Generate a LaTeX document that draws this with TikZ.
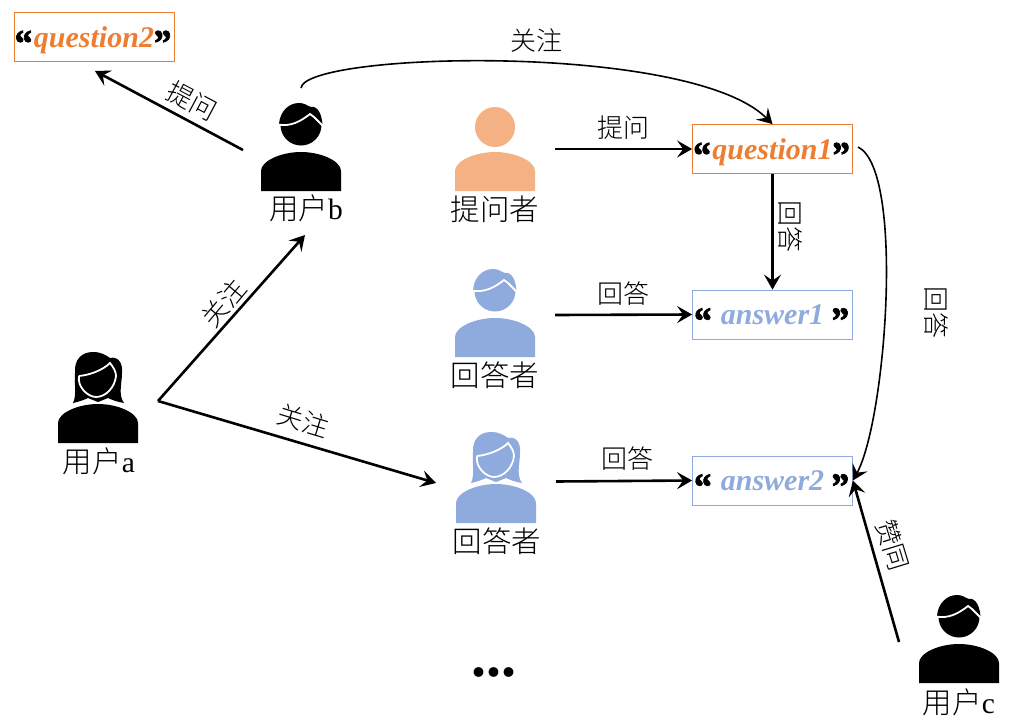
\documentclass[tikz,border=0pt]{standalone}
\usepackage{fontspec}
\setmainfont{Liberation Serif}
\newfontfamily\cjk{Noto Sans CJK SC Light}
\newfontfamily\quotefont[FakeSlant=-0.12,FakeBold=2]{Liberation Serif Bold}
\usetikzlibrary{arrows.meta}
\definecolor{qorange}{HTML}{ED7D31}
\definecolor{askorange}{HTML}{F4B183}
\definecolor{ansblue}{HTML}{8FAADC}
\newcommand{\qmark}[1]{\textcolor{black}{\quotefont\fontsize{38}{38}\selectfont\smash{\raisebox{-9pt}{#1}}}}
\tikzset{
    pics/body/.style={code={
        \fill [#1] (-40, 0) -- (-40, -20) .. controls (-40, -30) and (-20, -39) .. (0, -39)
            .. controls (20, -39) and (40, -30) .. (40, -20) -- (40, 0) -- cycle;
    }},
    pics/plain/.style={code={
        \pic {body=#1};
        \fill [#1] (0, -64) circle (20);
    }},
    pics/man/.style={code={
        \pic {body=#1};
        \fill [#1] (0, -66) circle (20.5);
        \fill [#1] (-22, -67) .. controls (-21, -80) and (-12, -88) .. (-2, -88)
            .. controls (3, -88) and (6, -86) .. (8, -84)
            .. controls (14, -86) and (21, -81) .. (21.5, -65) -- cycle;
        \draw [white, line width=1.8] (-23, -66.5) .. controls (-10, -64) and (0, -70) .. (9, -77) -- (13, -74) .. controls (16, -71) and (19, -68) .. (22, -65);
    }},
    pics/woman/.style={code={
        \pic {body=#1};
        \fill [#1] (-25, -40) .. controls (-21, -48) and (-24, -60) .. (-23, -70)
            .. controls (-24, -84) and (-16, -91) .. (-5, -91)
            .. controls (3, -91) and (8, -88) .. (12, -85)
            .. controls (20, -87) and (25, -80) .. (24, -70)
            .. controls (24, -60) and (20, -48) .. (26, -40)
            .. controls (20, -41) and (14, -43) .. (10, -45)
            -- (0, -41) -- (-10, -45) .. controls (-14, -43) and (-20, -41) .. (-25, -40) -- cycle;
        \draw [white, line width=1.8] (-19, -67) .. controls (-8, -68) and (5, -73) .. (12, -80)
            .. controls (15, -76) and (18, -72) .. (18, -67)
            .. controls (17, -56) and (8, -46) .. (-2, -46)
            .. controls (-10, -46) and (-21, -56) .. (-19, -67);
    }},
    lbl/.style={font=\cjk\fontsize{26}{26}\selectfont, inner sep=0pt},
    who/.style={font=\cjk\fontsize{29.5}{29.5}\selectfont, inner sep=0pt},
    tbox/.style={minimum width=160, minimum height=49, inner sep=0pt, line width=0.8,
        text height=22, text depth=2,
        font=\bfseries\itshape\fontsize{30}{30}\selectfont},
    link/.style={line width=2.6, -{Stealth[length=15,width=17,inset=6]}},
    curvelink/.style={line width=1.6, -{Stealth[length=15,width=17,inset=6]}},
}
\begin{document}
\begin{tikzpicture}[x=1pt, y=-1pt]
    \useasboundingbox (0, 0) rectangle (1013, 723);
    % people
    \pic at (98, 443) {woman=black};
    \pic at (301, 191) {man=black};
    \pic at (495, 191) {plain=askorange};
    \pic at (495, 357) {man=ansblue};
    \pic at (496, 523) {woman=ansblue};
    \pic at (959, 683) {man=black};
    % names
    \node [who] (usera) at (99, 461) {用户{\rmfamily a}};
    \node [who] (userb) at (306, 208) {用户{\rmfamily b}};
    \node [who] (asker) at (495, 209) {提问者};
    \node [who] (answerera) at (495, 375) {回答者};
    \node [who] (answererb) at (497, 541) {回答者};
    \node [who] (userc) at (959, 702) {用户{\rmfamily c}};
    % boxes
    \node [tbox, draw=qorange, text=qorange] (qtwo) at (94, 37) {\qmark{“}question2\qmark{”}};
    \node [tbox, draw=qorange, text=qorange] (qone) at (772.5, 149) {\qmark{“}question1\qmark{”}};
    \node [tbox, draw=ansblue, text=ansblue] (aone) at (772.5, 314.5) {\qmark{“} answer1 \qmark{”}};
    \node [tbox, draw=ansblue, text=ansblue] (atwo) at (772.5, 480.5) {\qmark{“} answer2 \qmark{”}};
    % free ends of the connectors
    \coordinate (aout) at (158, 401);
    \coordinate (bin) at (305, 235);
    \coordinate (bout) at (243, 150);
    \coordinate (btop) at (301, 88);
    \coordinate (qtwoin) at (95, 71);
    \coordinate (askout) at (555, 149);
    \coordinate (ansaout) at (555, 315);
    \coordinate (ansbin) at (436, 483);
    \coordinate (ansbout) at (556, 481.5);
    \coordinate (qoneout) at (858, 147);
    \coordinate (cout) at (899, 642);
    % connectors
    \draw [link] (aout) -- (bin);
    \draw [link] (aout) -- (ansbin);
    \draw [link] (bout) -- (qtwoin);
    \draw [link] (askout) -- (qone.west);
    \draw [link] (ansaout) -- (aone.west);
    \draw [link] (ansbout) -- (atwo.west);
    \draw [link] (qone.south) -- (aone.north);
    \draw [link] (cout) -- (atwo.east);
    \draw [curvelink] (btop) .. controls (305, 52) and (690, 42) .. (qone.north);
    \draw [curvelink] (qoneout) .. controls (905, 170) and (886, 420) .. (atwo.east);
    % labels
    \node [lbl] (follower) at (536, 41) {关注};
    \node [lbl, rotate=-28] (askb) at (192, 101) {提问};
    \node [lbl] (aska) at (623, 128) {提问};
    \node [lbl, rotate=-90] (ansa) at (790, 226) {回答};
    \node [lbl] (ansb) at (623, 294) {回答};
    \node [lbl] (ansc) at (627, 459) {回答};
    \node [lbl, rotate=-90] (ansd) at (936, 312) {回答};
    \node [lbl, rotate=50] (followb) at (224, 303) {关注};
    \node [lbl, rotate=-17] (followc) at (303, 421) {关注};
    \node [lbl, rotate=-73] (agree) at (893, 545) {赞同};
    \node [font=\bfseries\fontsize{60}{60}\selectfont, inner sep=0pt] (more) at (494, 672) {...};
\end{tikzpicture}
\end{document}
